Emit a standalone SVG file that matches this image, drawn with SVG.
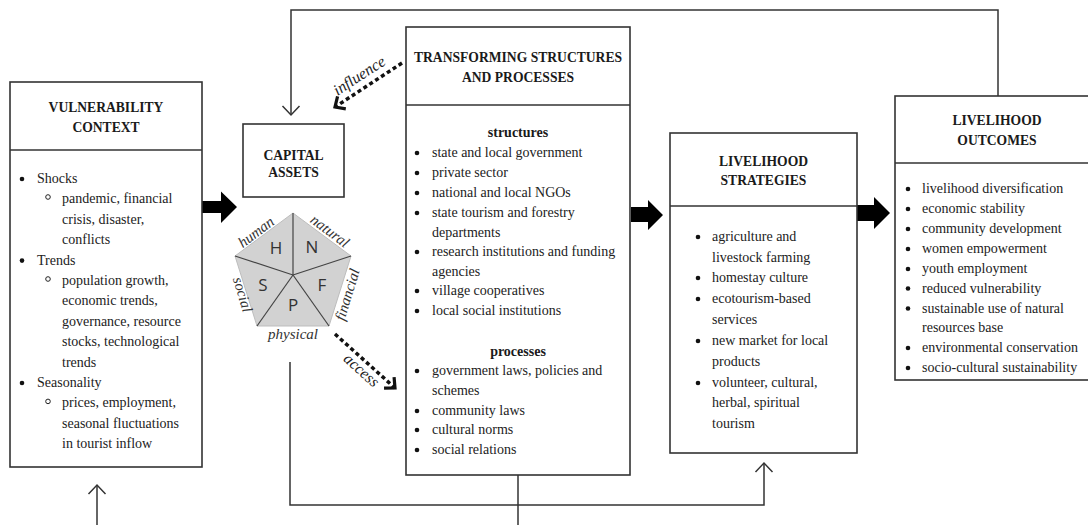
<svg xmlns="http://www.w3.org/2000/svg" width="1088" height="525" viewBox="0 0 1088 525">
  <style>
    .box { fill: #ffffff; stroke: #333333; stroke-width: 1.6; }
    .div { stroke: #333333; stroke-width: 1.6; }
    .hd { font-family: "Liberation Serif", "Times New Roman", serif; font-weight: bold; font-size: 13.6px; fill: #1a1a1a; text-anchor: middle; }
    .tx { font-family: "Liberation Serif", "Times New Roman", serif; font-size: 14px; fill: #222222; }
    .sub { font-family: "Liberation Serif", "Times New Roman", serif; font-size: 14px; font-weight: bold; fill: #1a1a1a; text-anchor: middle; }
    .dot { fill: #111111; }
    .ring { fill: none; stroke: #222222; stroke-width: 1; }
    .conn { fill: none; stroke: #333333; stroke-width: 1.5; }
    .dash { fill: none; stroke: #111111; stroke-width: 3.5; stroke-dasharray: 4 3; }
    .fat { fill: #000000; }
    .cap { font-family: "Liberation Serif", "Times New Roman", serif; font-style: italic; font-size: 15px; fill: #333333; text-anchor: middle; }
    .lbl { font-family: "Liberation Serif", "Times New Roman", serif; font-style: italic; font-size: 16px; fill: #222222; text-anchor: middle; }
    .let { font-family: "Open Sans", "Liberation Sans", sans-serif; font-size: 17px; fill: #333333; text-anchor: middle; }
  </style>
  <defs>
    <marker id="openHead" markerUnits="userSpaceOnUse" markerWidth="24" markerHeight="24" viewBox="-12 -12 24 24" refX="0" refY="0" orient="auto">
      <path d="M-9,-8.5 L0,0 L-9,8.5" fill="none" stroke="#333333" stroke-width="1.5"/>
    </marker>
    <marker id="boldHead" markerUnits="userSpaceOnUse" markerWidth="24" markerHeight="24" viewBox="-12 -12 24 24" refX="0" refY="0" orient="auto">
      <path d="M-8,-7.5 L0,0 L-8,7.5" fill="none" stroke="#111111" stroke-width="3.2" stroke-dasharray="none"/>
    </marker>
  </defs>

  <!-- connectors -->
  <g id="connectors">
    <path class="conn" d="M998 96 V10 H291 V115" marker-end="url(#openHead)"/>
    <path class="conn" d="M290 362 V505 H764 V463" marker-end="url(#openHead)"/>
    <line class="conn" x1="518" y1="475" x2="518" y2="525"/>
    <line class="conn" x1="97" y1="525" x2="97" y2="485" marker-end="url(#openHead)"/>
    <line class="dash" x1="402" y1="63" x2="335" y2="107" marker-end="url(#boldHead)"/>
    <line class="dash" x1="335" y1="334" x2="395" y2="388" marker-end="url(#boldHead)"/>
    <text class="lbl" transform="translate(362,80) rotate(-33)">influence</text>
    <text class="lbl" transform="translate(358,374) rotate(42)">access</text>
    <polygon class="fat" points="202,201 221,201 221,191.5 237,207 221,223 221,213 202,213"/>
    <polygon class="fat" points="631,207 648,207 648,200 663,215 648,230 648,222 631,222"/>
    <polygon class="fat" points="857,205 874,205 874,197 890,213 874,229 874,221 857,221"/>
  </g>

  <!-- vulnerability context -->
  <g id="vulnerability">
    <rect class="box" x="10" y="82" width="192" height="385"/>
    <line class="div" x1="10" y1="150" x2="202" y2="150"/>
    <text class="hd" x="106" y="112">VULNERABILITY</text>
    <text class="hd" x="106" y="132">CONTEXT</text>
    <circle class="dot" cx="22" cy="179" r="2.3"/>
    <text class="tx" x="37" y="183">Shocks</text>
    <circle class="ring" cx="48" cy="197" r="2.3"/>
    <text class="tx" x="62" y="203.4">pandemic, financial</text>
    <text class="tx" x="62" y="223.8">crisis, disaster,</text>
    <text class="tx" x="62" y="244.2">conflicts</text>
    <circle class="dot" cx="22" cy="260.6" r="2.3"/>
    <text class="tx" x="37" y="264.6">Trends</text>
    <circle class="ring" cx="48" cy="279" r="2.3"/>
    <text class="tx" x="62" y="285">population growth,</text>
    <text class="tx" x="62" y="305.4">economic trends,</text>
    <text class="tx" x="62" y="325.8">governance, resource</text>
    <text class="tx" x="62" y="346.2">stocks, technological</text>
    <text class="tx" x="62" y="366.6">trends</text>
    <circle class="dot" cx="22" cy="383" r="2.3"/>
    <text class="tx" x="37" y="387">Seasonality</text>
    <circle class="ring" cx="48" cy="401.4" r="2.3"/>
    <text class="tx" x="62" y="407.4">prices, employment,</text>
    <text class="tx" x="62" y="427.8">seasonal fluctuations</text>
    <text class="tx" x="62" y="448.2">in tourist inflow</text>
  </g>

  <!-- capital assets -->
  <g id="capital">
    <rect class="box" x="243" y="124" width="101" height="73"/>
    <text class="hd" x="293.5" y="160">CAPITAL</text>
    <text class="hd" x="293.5" y="177">ASSETS</text>
  </g>

  <!-- asset pentagon -->
  <g id="pentagon">
    <polygon points="293,213 351,256 329,326 257,326 235,256" fill="#d2d2d2" stroke="#bdbdbd" stroke-width="1"/>
    <g stroke="#444444" stroke-width="1.2">
      <line x1="293" y1="275" x2="293" y2="213"/>
      <line x1="293" y1="275" x2="351" y2="256"/>
      <line x1="293" y1="275" x2="329" y2="326"/>
      <line x1="293" y1="275" x2="257" y2="326"/>
      <line x1="293" y1="275" x2="235" y2="256"/>
    </g>
    <text class="let" x="276" y="254">H</text>
    <text class="let" x="312" y="253">N</text>
    <text class="let" x="263" y="291">S</text>
    <text class="let" x="322" y="291">F</text>
    <text class="let" x="293" y="311">P</text>
    <text class="cap" transform="translate(259,236) rotate(-37)">human</text>
    <text class="cap" transform="translate(327,235) rotate(37)">natural</text>
    <text class="cap" transform="translate(238,296) rotate(73)">social</text>
    <text class="cap" transform="translate(352,296) rotate(-73)">financial</text>
    <text class="cap" x="293" y="339">physical</text>
  </g>

  <!-- transforming structures and processes -->
  <g id="transforming">
    <rect class="box" x="406" y="27" width="224" height="448"/>
    <line class="div" x1="406" y1="105" x2="630" y2="105"/>
    <text class="hd" x="518" y="62">TRANSFORMING STRUCTURES</text>
    <text class="hd" x="518" y="82">AND PROCESSES</text>
    <text class="sub" x="518" y="137">structures</text>
    <g class="dot">
      <circle cx="417" cy="153" r="2.3"/>
      <circle cx="417" cy="173" r="2.3"/>
      <circle cx="417" cy="193" r="2.3"/>
      <circle cx="417" cy="213" r="2.3"/>
      <circle cx="417" cy="252" r="2.3"/>
      <circle cx="417" cy="291" r="2.3"/>
      <circle cx="417" cy="311" r="2.3"/>
      <circle cx="417" cy="371" r="2.3"/>
      <circle cx="417" cy="411" r="2.3"/>
      <circle cx="417" cy="430" r="2.3"/>
      <circle cx="417" cy="450" r="2.3"/>
    </g>
    <text class="tx" x="432" y="157">state and local government</text>
    <text class="tx" x="432" y="177">private sector</text>
    <text class="tx" x="432" y="197">national and local NGOs</text>
    <text class="tx" x="432" y="217">state tourism and forestry</text>
    <text class="tx" x="432" y="236.5">departments</text>
    <text class="tx" x="432" y="256">research institutions and funding</text>
    <text class="tx" x="432" y="275.5">agencies</text>
    <text class="tx" x="432" y="295">village cooperatives</text>
    <text class="tx" x="432" y="315">local social institutions</text>
    <text class="sub" x="518" y="356">processes</text>
    <text class="tx" x="432" y="375">government laws, policies and</text>
    <text class="tx" x="432" y="395">schemes</text>
    <text class="tx" x="432" y="415">community laws</text>
    <text class="tx" x="432" y="434">cultural norms</text>
    <text class="tx" x="432" y="454">social relations</text>
  </g>

  <!-- livelihood strategies -->
  <g id="strategies">
    <rect class="box" x="670" y="133" width="187" height="320"/>
    <line class="div" x1="670" y1="206" x2="857" y2="206"/>
    <text class="hd" x="763.5" y="166">LIVELIHOOD</text>
    <text class="hd" x="763.5" y="184.5">STRATEGIES</text>
    <g class="dot">
      <circle cx="698" cy="237" r="2.3"/>
      <circle cx="698" cy="278" r="2.3"/>
      <circle cx="698" cy="299" r="2.3"/>
      <circle cx="698" cy="341" r="2.3"/>
      <circle cx="698" cy="383" r="2.3"/>
    </g>
    <text class="tx" x="712" y="241">agriculture and</text>
    <text class="tx" x="712" y="261.5">livestock farming</text>
    <text class="tx" x="712" y="282">homestay culture</text>
    <text class="tx" x="712" y="303">ecotourism-based</text>
    <text class="tx" x="712" y="324">services</text>
    <text class="tx" x="712" y="345">new market for local</text>
    <text class="tx" x="712" y="366">products</text>
    <text class="tx" x="712" y="387">volunteer, cultural,</text>
    <text class="tx" x="712" y="407">herbal, spiritual</text>
    <text class="tx" x="712" y="428">tourism</text>
  </g>

  <!-- livelihood outcomes -->
  <g id="outcomes">
    <rect class="box" x="895" y="96" width="220" height="284"/>
    <line class="div" x1="895" y1="163" x2="1100" y2="163"/>
    <text class="hd" x="997" y="125">LIVELIHOOD</text>
    <text class="hd" x="997" y="145">OUTCOMES</text>
    <g class="dot">
      <circle cx="908" cy="189" r="2.3"/>
      <circle cx="908" cy="209" r="2.3"/>
      <circle cx="908" cy="229" r="2.3"/>
      <circle cx="908" cy="249" r="2.3"/>
      <circle cx="908" cy="269" r="2.3"/>
      <circle cx="908" cy="288.5" r="2.3"/>
      <circle cx="908" cy="308.5" r="2.3"/>
      <circle cx="908" cy="348" r="2.3"/>
      <circle cx="908" cy="368" r="2.3"/>
    </g>
    <text class="tx" x="922" y="193">livelihood diversification</text>
    <text class="tx" x="922" y="213">economic stability</text>
    <text class="tx" x="922" y="233">community development</text>
    <text class="tx" x="922" y="253">women empowerment</text>
    <text class="tx" x="922" y="273">youth employment</text>
    <text class="tx" x="922" y="292.5">reduced vulnerability</text>
    <text class="tx" x="922" y="312.5">sustainable use of natural</text>
    <text class="tx" x="922" y="332">resources base</text>
    <text class="tx" x="922" y="352">environmental conservation</text>
    <text class="tx" x="922" y="372">socio-cultural sustainability</text>
  </g>
</svg>
